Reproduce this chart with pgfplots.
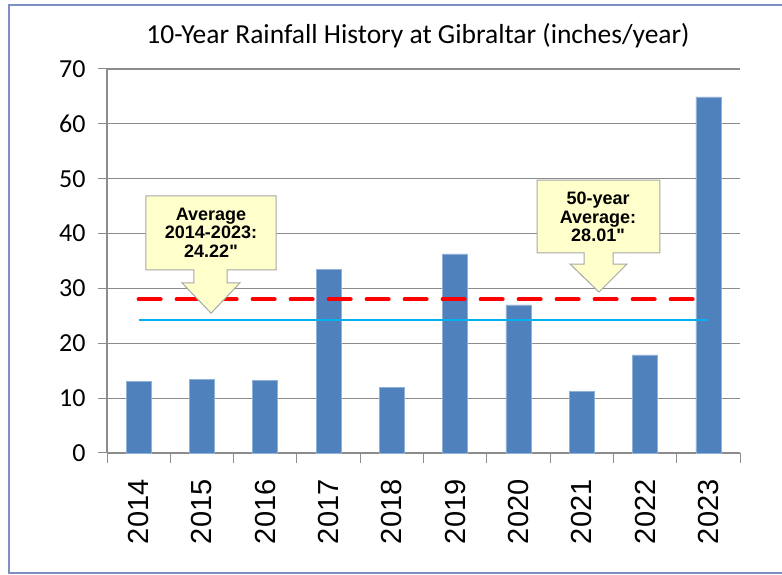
\documentclass[border=0pt]{standalone}
\usepackage{pgfplots}
\pgfplotsset{compat=1.18}
\usepackage{fontspec}
\setmainfont{Carlito}
\newfontfamily\arial{Liberation Sans}

\definecolor{barblue}{HTML}{4F81BD}
\definecolor{baredge}{HTML}{8FB0D8}
\definecolor{avgred}{HTML}{FF0000}
\definecolor{avgcyan}{HTML}{00B0F0}
\definecolor{gridgray}{HTML}{8C8C8C}
\definecolor{calfill}{HTML}{FFFFCC}
\definecolor{caledge}{HTML}{A6A6A6}
\definecolor{framecol}{HTML}{7D90C2}

\begin{document}
\begin{tikzpicture}
\path[use as bounding box] (0,0) rectangle (782bp,575bp);
\draw[framecol,line width=1.6bp] (782bp,570bp) -- (9bp,570bp) -- (9bp,2bp) -- (782bp,2bp);

\node[anchor=base,inner sep=0pt,font=\fontsize{27.5bp}{31bp}\selectfont]
  at (418bp,531bp) {10-Year Rainfall History at Gibraltar (inches/year)};

\begin{axis}[
at={(107bp,122bp)},anchor=south west,
width=633bp,height=384bp,scale only axis,
xmin=-0.5,xmax=9.5,ymin=0,ymax=70,
axis x line*=bottom,axis y line*=left,
axis line style={-,draw=gridgray,line width=1.2bp},
ytick={0,10,...,70},
xtick={0,...,9},
xticklabels={2014,2015,2016,2017,2018,2019,2020,2021,2022,2023},
minor xtick={-0.5,0.5,...,9.5},
major x tick style={draw=none},
minor x tick style={draw=gridgray,line width=1bp},
major tick length=9bp,minor tick length=10bp,
tick align=outside,
ytick style={draw=gridgray,line width=1bp},
ymajorgrids=true,
grid style={draw=gridgray,line width=1.2bp},
/pgf/number format/assume math mode=true,
yticklabel style={font=\fontsize{26bp}{30bp}\selectfont,xshift=-9bp},
xticklabel style={font=\arial\fontsize{29bp}{32bp}\selectfont,rotate=90,anchor=east,xshift=-14bp},
clip=false
]
\addplot[ybar,bar width=0.395,fill=barblue,draw=baredge,line width=0.6bp] coordinates {
(0,13.1) (1,13.4) (2,13.3) (3,33.5) (4,11.9)
(5,36.3) (6,27.0) (7,11.3) (8,17.9) (9,64.9)};

\addplot[avgred,line width=4bp,line cap=round,dash pattern=on 22bp off 16bp,no marks]
  coordinates {(0,28.01) (9,28.01)};
\addplot[avgcyan,line width=2.2bp,no marks]
  coordinates {(0,24.22) (9,24.22)};

% callouts
\draw[caledge,fill=calfill,line width=1bp]
  (axis cs:0.116,46.85) -- (axis cs:2.17,46.85) -- (axis cs:2.17,33.36)
  -- (axis cs:1.396,33.36) -- (axis cs:1.396,31.0) -- (axis cs:1.601,31.0)
  -- (axis cs:1.143,25.5) -- (axis cs:0.685,31.0) -- (axis cs:0.874,31.0)
  -- (axis cs:0.874,33.36) -- (axis cs:0.116,33.36) -- cycle;
\node[align=center,inner sep=0pt,font=\arial\bfseries\fontsize{18bp}{18.5bp}\selectfont]
  at (axis cs:1.143,40.2) {Average\\2014-2023:\\24.22"};

\draw[caledge,fill=calfill,line width=1bp]
  (axis cs:6.293,49.76) -- (axis cs:8.236,49.76) -- (axis cs:8.236,36.46)
  -- (axis cs:7.494,36.46) -- (axis cs:7.494,34.45) -- (axis cs:7.715,34.45)
  -- (axis cs:7.272,29.35) -- (axis cs:6.814,34.45) -- (axis cs:7.036,34.45)
  -- (axis cs:7.036,36.46) -- (axis cs:6.293,36.46) -- cycle;
\node[align=center,inner sep=0pt,font=\arial\bfseries\fontsize{18bp}{18.5bp}\selectfont]
  at (axis cs:7.257,43.0) {50-year\\Average:\\28.01"};
\end{axis}
\end{tikzpicture}
\end{document}
